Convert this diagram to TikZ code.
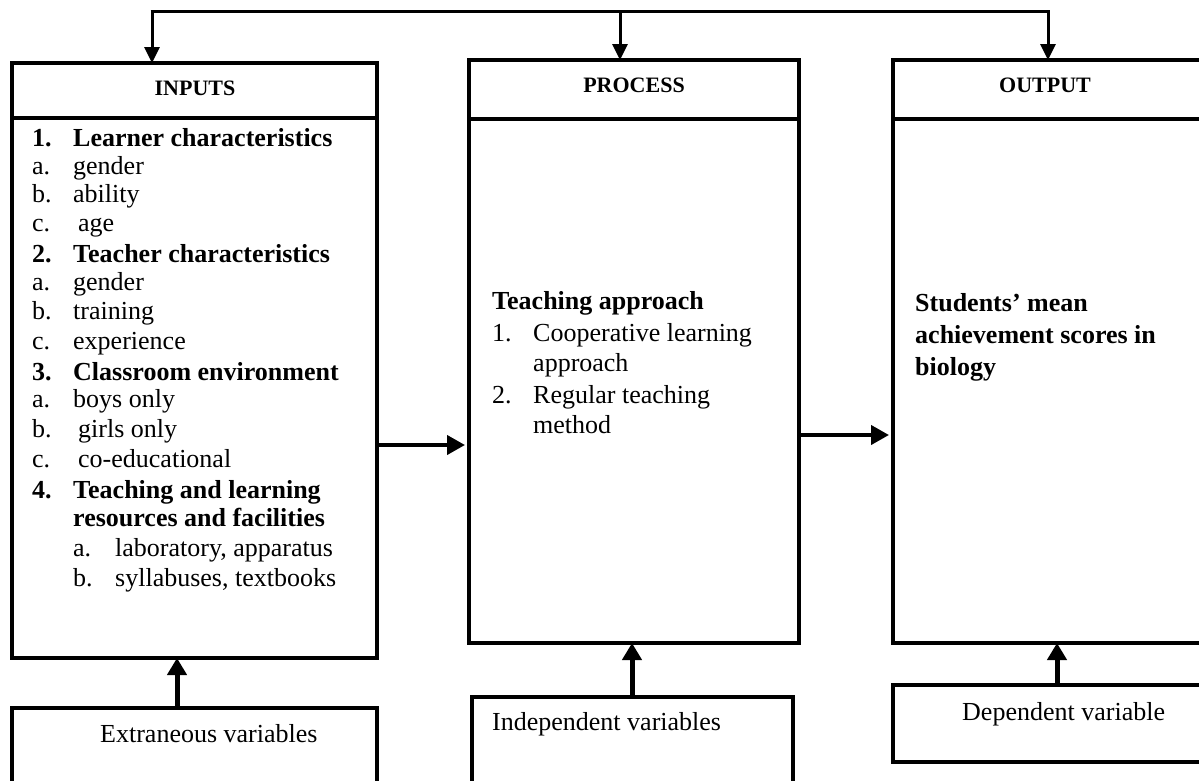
\documentclass[tikz,border=0pt]{standalone}
\usepackage{fontspec}
\setmainfont{Liberation Serif}
\usetikzlibrary{arrows.meta}
\begin{document}
\begin{tikzpicture}[x=1pt,y=-1pt,
  box/.style={draw,line width=4pt,rectangle,inner sep=0pt},
  hdr/.style={font=\fontsize{22}{26}\selectfont\bfseries,anchor=base},
  txt/.style={font=\fontsize{26}{29}\selectfont,anchor=base west,inner sep=0pt},
  btxt/.style={font=\fontsize{26}{29}\selectfont\bfseries,anchor=base west,inner sep=0pt},
  downarr/.style={line width=3pt,-{Triangle[length=16pt,width=15pt]}},
  uparr/.style={line width=5pt,-{Triangle[length=17pt,width=19pt]}},
  sidearr/.style={line width=4pt,-{Triangle[length=18pt,width=19pt]}},
  topline/.style={line width=3pt}]
\useasboundingbox (0,0) rectangle (1199,780);
\clip (0,0) rectangle (1199,780);

% main boxes
\node[box,minimum width=365pt,minimum height=595pt] (inputs) at (194.5,360.5) {};
\node[box,minimum width=330pt,minimum height=583pt] (process) at (634,351.5) {};
\node[box,minimum width=322pt,minimum height=583pt] (output) at (1054,351.5) {};
\draw[line width=4pt] (12,118) -- (377,118);
\draw[line width=4pt] (469,119) -- (799,119);
\draw[line width=4pt] (893,119) -- (1215,119);

% headers
\node[hdr] (hin) at (195,95) {INPUTS};
\node[hdr] (hpr) at (634,92) {PROCESS};
\node[hdr] (hout) at (1045,92) {OUTPUT};

% bottom boxes
\node[box,minimum width=365pt,minimum height=92pt] (ext) at (194.5,754) {};
\node[box,minimum width=321pt,minimum height=103pt] (ind) at (632.5,748.5) {};
\node[box,minimum width=322pt,minimum height=77pt] (dep) at (1054,723.5) {};
\node[txt] (text) at (100,742) {Extraneous variables};
\node[txt] (tind) at (492,730) {Independent variables};
\node[txt] (tdep) at (962,720) {Dependent variable};

% inputs text
\node[btxt] (n1) at (32,146) {1.};
\node[btxt] (l1) at (73,146) {Learner characteristics};
\node[txt] (a1) at (32,174) {a.};
\node[txt] (a1t) at (73,174) {gender};
\node[txt] (b1) at (32,202) {b.};
\node[txt] (b1t) at (73,202) {ability};
\node[txt] (c1) at (32,231) {c.};
\node[txt] (c1t) at (78,231) {age};
\node[btxt] (n2) at (32,262) {2.};
\node[btxt] (l2) at (73,262) {Teacher characteristics};
\node[txt] (a2) at (32,290) {a.};
\node[txt] (a2t) at (73,290) {gender};
\node[txt] (b2) at (32,319) {b.};
\node[txt] (b2t) at (73,319) {training};
\node[txt] (c2) at (32,349) {c.};
\node[txt] (c2t) at (73,349) {experience};
\node[btxt] (n3) at (32,380) {3.};
\node[btxt] (l3) at (73,380) {Classroom environment};
\node[txt] (a3) at (32,407) {a.};
\node[txt] (a3t) at (73,407) {boys only};
\node[txt] (b3) at (32,437) {b.};
\node[txt] (b3t) at (78,437) {girls only};
\node[txt] (c3) at (32,467) {c.};
\node[txt] (c3t) at (78,467) {co-educational};
\node[btxt] (n4) at (32,498) {4.};
\node[btxt] (l4) at (73,498) {Teaching and learning};
\node[btxt] (l4b) at (73,526) {resources and facilities};
\node[txt] (a4) at (73,556) {a.};
\node[txt] (a4t) at (115,556) {laboratory, apparatus};
\node[txt] (b4) at (73,586) {b.};
\node[txt] (b4t) at (115,586) {syllabuses, textbooks};

% process text
\node[btxt] (pt) at (492,309) {Teaching approach};
\node[txt] (p1) at (492,341) {1.};
\node[txt] (p1t) at (533,341) {Cooperative learning};
\node[txt] (p1u) at (533,371) {approach};
\node[txt] (p2) at (492,403) {2.};
\node[txt] (p2t) at (533,403) {Regular teaching};
\node[txt] (p2u) at (533,433) {method};

% output text
\node[btxt] (o1) at (915,311) {Students’ mean};
\node[btxt] (o2) at (915,343) {achievement scores in};
\node[btxt] (o3) at (915,375) {biology};

% top feedback line
\coordinate (t1) at (152,11);
\coordinate (t2) at (620,11);
\coordinate (t3) at (1048,11);
\draw[topline] ([xshift=-1.5pt]t1) -- ([xshift=1.5pt]t3);
\draw[downarr] (t1) -- ([yshift=-2pt]t1 |- inputs.north);
\draw[downarr] (t2) -- ([yshift=-2pt]t2 |- process.north);
\draw[downarr] (t3) -- ([yshift=-2pt]t3 |- output.north);

% side arrows
\coordinate (s1) at (377,445);
\coordinate (s2) at (799,435);
\draw[sidearr] (s1) -- ([xshift=-2pt]s1 -| process.west);
\draw[sidearr] (s2) -- ([xshift=-2pt]s2 -| output.west);

% bottom arrows
\coordinate (u1) at (177,0);
\coordinate (u2) at (632,0);
\coordinate (u3) at (1057,0);
\draw[uparr] (u1 |- ext.north) -- ([yshift=2pt]u1 |- inputs.south);
\draw[uparr] (u2 |- ind.north) -- ([yshift=2pt]u2 |- process.south);
\draw[uparr] (u3 |- dep.north) -- ([yshift=2pt]u3 |- output.south);
\end{tikzpicture}
\end{document}
